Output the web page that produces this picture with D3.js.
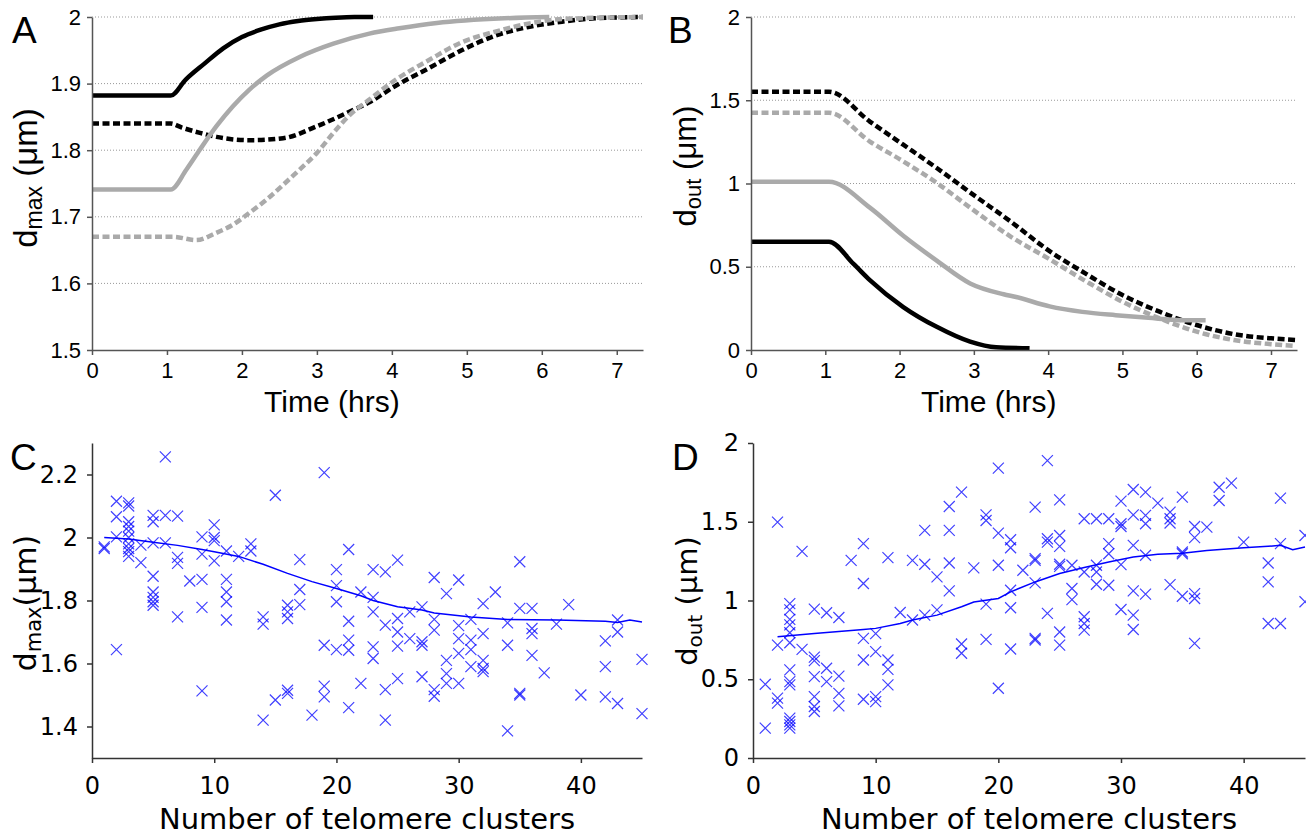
<!DOCTYPE html>
<html>
<head>
<meta charset="utf-8">
<script src="https://cdn.jsdelivr.net/npm/d3@7"></script>
<style>
  body { margin: 0; background: #fff; }
</style>
</head>
<body>
<svg id="fig"></svg>
<script>
// ---- panel A: d_max vs time, [hours, um]
const aBlackSolid = [[0,1.882],[1.05,1.882],[1.25,1.906],[1.5,1.93],[1.75,1.953],[2.0,1.97],[2.25,1.981],[2.5,1.989],[2.75,1.994],[3.0,1.997],[3.25,1.999],[3.5,2.0],[3.75,2.0]];
const aGreySolid = [[0,1.741],[1.05,1.741],[1.26,1.771],[1.44,1.801],[1.66,1.836],[1.88,1.866],[2.1,1.891],[2.33,1.912],[2.77,1.94],[3.22,1.96],[3.7,1.975],[4.1,1.983],[4.6,1.991],[5.5,1.998],[6.1,2.0]];
const aBlackDash = [[0,1.84],[1.05,1.84],[1.2,1.834],[1.44,1.826],[1.66,1.82],[2.1,1.815],[2.55,1.818],[3.0,1.836],[3.44,1.858],[3.7,1.872],[4.04,1.896],[4.49,1.923],[4.93,1.95],[5.38,1.972],[5.82,1.985],[6.27,1.993],[6.71,1.998],[7.35,2.0]];
const aGreyDash = [[0,1.67],[1.08,1.67],[1.39,1.665],[1.66,1.676],[1.88,1.688],[2.1,1.706],[2.33,1.726],[2.55,1.748],[2.77,1.771],[3.0,1.796],[3.22,1.826],[3.44,1.853],[3.7,1.876],[4.04,1.905],[4.49,1.935],[4.93,1.962],[5.38,1.978],[5.82,1.99],[6.27,1.997],[7.35,2.0]];

// ---- panel B: d_out vs time
const bBlackSolid = [[0,0.65],[1.05,0.65],[1.38,0.517],[1.6,0.42],[2.05,0.258],[2.5,0.139],[2.95,0.05],[3.3,0.016],[3.75,0.01]];
const bGreySolid = [[0,1.01],[1.05,1.01],[1.6,0.855],[2.05,0.686],[2.5,0.537],[2.95,0.40],[3.4,0.335],[3.57,0.318],[4.02,0.262],[4.46,0.229],[4.91,0.209],[5.35,0.193],[5.8,0.179],[6.12,0.178]];
const bBlackDash = [[0,1.551],[1.05,1.551],[1.6,1.372],[2.05,1.233],[2.5,1.093],[3.0,0.93],[3.5,0.77],[4.0,0.60],[4.5,0.46],[5.0,0.33],[5.5,0.23],[6.0,0.15],[6.5,0.095],[7.0,0.07],[7.35,0.06]];
const bGreyDash = [[0,1.425],[1.05,1.425],[1.6,1.252],[2.05,1.133],[2.5,1.004],[2.95,0.855],[3.5,0.68],[4.0,0.55],[4.5,0.415],[5.0,0.29],[5.5,0.19],[6.0,0.11],[6.5,0.06],[7.0,0.035],[7.3,0.025]];

const timeTicks = [0,1,2,3,4,5,6,7];
const aTicks = [1.5,1.6,1.7,1.8,1.9,2];
const aGrid = [1.6,1.7,1.8,1.9,2];
const bTicks = [0,0.5,1,1.5,2];
const bGrid = [0.5,1,1.5,2];

// ---- panels C, D: per number of telomere clusters
const clusterCounts = [1,2,3,4,5,6,7,8,9,10,11,12,13,14,15,16,17,18,19,20,21,22,23,24,25,26,27,28,29,30,31,32,33,34,35,36,37,38,39,40,42,43,45];
const cDmax = [
  [1.97,1.965],
  [2.115,2.066,2.002,1.644],
  [2.11,2.10,2.05,2.035,2.02,2.0,1.98,1.965,1.955,1.94],
  [1.976,1.92],
  [2.07,2.05,1.983,1.877,1.827,1.81,1.796,1.785],
  [2.256,2.07,1.983],
  [2.068,1.937,1.918,1.748],
  [1.862],
  [2.002,1.947,1.867,1.778,1.513],
  [2.04,2.0,1.99,1.926],
  [1.957,1.867,1.827,1.796,1.738],
  [1.94],
  [1.98,1.957],
  [1.748,1.725,1.42],
  [2.134,1.484],
  [1.785,1.764,1.743,1.515,1.505],
  [1.93,1.835,1.787],
  [1.436],
  [2.206,1.658,1.528,1.494],
  [1.898,1.847,1.796,1.644],
  [1.962,1.734,1.674,1.642,1.46],
  [1.827,1.537],
  [1.898,1.81,1.764,1.653,1.616],
  [1.891,1.722,1.517,1.42],
  [1.928,1.743,1.70,1.655,1.552],
  [1.764,1.679],
  [1.78,1.669,1.658,1.558],
  [1.873,1.74,1.706,1.517,1.496],
  [1.822,1.61,1.568,1.537],
  [1.865,1.72,1.679,1.632,1.537],
  [1.74,1.674,1.644,1.59],
  [1.79,1.695,1.61,1.584,1.574],
  [1.827],
  [1.729,1.658,1.386],
  [1.923,1.775,1.505,1.5],
  [1.775,1.711,1.695,1.626],
  [1.57],
  [1.725],
  [1.787],
  [1.5],
  [1.672,1.59,1.494],
  [1.738,1.70,1.473],
  [1.613,1.441]
];
const dDout = [
  [0.468,0.19],
  [1.498,0.717,0.38,0.348],
  [0.98,0.94,0.88,0.845,0.795,0.732,0.56,0.485,0.464,0.253,0.232,0.21,0.19],
  [1.312,0.69],
  [0.945,0.64,0.618,0.517,0.39,0.327,0.295],
  [0.922,0.57,0.485],
  [0.892,0.52,0.41,0.331],
  [1.255],
  [1.361,1.108,0.76,0.622,0.373],
  [0.79,0.675,0.39,0.358],
  [1.272,0.622,0.563,0.464],
  [0.924],
  [1.255,0.876],
  [1.445,1.23,0.907],
  [1.15,0.94],
  [1.597,1.445,1.238,1.061],
  [1.688,0.724,0.665],
  [1.207],
  [1.544,1.508,0.977,0.753],
  [1.84,1.428,1.224,0.443],
  [1.386,1.335,1.065,0.954,0.692],
  [1.192],
  [1.593,1.266,1.255,1.112,0.76,0.749],
  [1.888,1.392,1.371,0.918],
  [1.639,1.413,1.344,1.23,1.217,0.8,0.717],
  [1.224,1.076,1.006],
  [1.519,1.181,0.897,0.854,0.812],
  [1.519,1.224,1.181,1.103],
  [1.519,1.361,1.297,1.097],
  [1.631,1.487,1.47,1.228,0.943],
  [1.705,1.544,1.35,1.061,0.907,0.816],
  [1.688,1.54,1.487,1.287,1.04],
  [1.618],
  [1.561,1.519,1.492,1.101],
  [1.656,1.308,1.297,1.027],
  [1.47,1.399,1.044,1.013,0.728],
  [1.466],
  [1.719,1.635],
  [1.745],
  [1.371],
  [1.238,1.118,0.854],
  [1.65,1.361,0.854],
  [1.413,0.992]
];
// smoothed trend lines
const cFitX = [1,3,5,7,9,10,12,14,16,18,20,22,23,25,27,28,31,34,38,42,43,44,45];
const cFitY = [2.0,1.995,1.985,1.975,1.962,1.955,1.94,1.915,1.886,1.86,1.838,1.815,1.80,1.78,1.77,1.76,1.748,1.74,1.738,1.734,1.73,1.738,1.732];
const dFitX = [2,5,9,10,12,13,15,17,18,20,21,23,25,27,29,31,33,35,37,40,42,43,44,45];
const dFitY = [0.77,0.79,0.816,0.823,0.854,0.876,0.907,0.96,0.99,1.013,1.055,1.118,1.171,1.209,1.245,1.276,1.293,1.30,1.318,1.335,1.344,1.35,1.323,1.34];
const clusterTicks = [0,10,20,30,40];
const cTicks = [1.4,1.6,1.8,2.0,2.2];
const dTicks = [0,0.5,1,1.5,2];

const W = 1306, H = 835;
const svg = d3.select("#fig").attr("width", W).attr("height", H);

const FONT_AB = "'Liberation Sans',Arial,sans-serif";
const FONT_CD = "'DejaVu Sans',Verdana,sans-serif";

const xA = d3.scaleLinear().domain([0, 7.35]).range([92, 643]);
const yA = d3.scaleLinear().domain([1.5, 2]).range([350, 17]);
const xB = d3.scaleLinear().domain([0, 7.35]).range([751, 1297]);
const yB = d3.scaleLinear().domain([0, 2]).range([350, 17]);
const xC = d3.scaleLinear().domain([0, 45]).range([92, 642]);
const yC = d3.scaleLinear().domain([1.3, 2.3]).range([758, 443]);
const xD = d3.scaleLinear().domain([0, 45]).range([753, 1305]);
const yD = d3.scaleLinear().domain([0, 2]).range([758, 443]);

const fmt = d3.format("~g");

function drawGrid(xs, ys, vals) {
  svg.append("g").selectAll("line").data(vals).join("line")
    .attr("x1", xs.range()[0]).attr("x2", xs.range()[1])
    .attr("y1", d => ys(d)).attr("y2", d => ys(d))
    .style("stroke", "#999").style("stroke-width", 1).style("stroke-dasharray", "1,2");
}

function drawAxes(xs, ys, xt, yt, o) {
  let gx = svg.append("g").attr("transform", `translate(0,${ys.range()[0]})`)
    .call(d3.axisBottom(xs).tickValues(xt).tickFormat(fmt).tickSize(5).tickSizeOuter(0).tickPadding(o.xpad));
  let gy = svg.append("g").attr("transform", `translate(${xs.range()[0]},0)`)
    .call(d3.axisLeft(ys).tickValues(yt).tickFormat(fmt).tickSize(5).tickSizeOuter(0).tickPadding(o.ypad));
  [gx, gy].forEach(g => {
    g.select(".domain").style("stroke", o.color).style("stroke-width", 1.5);
    g.selectAll(".tick line").style("stroke", o.color).style("stroke-width", 1.5);
    g.selectAll("text").style("font-family", o.font).style("font-size", o.size + "px").style("fill", "#000");
  });
}

function yLabel(x, y, sub, size, font, gap) {
  let t = svg.append("text")
    .attr("transform", `translate(${x},${y}) rotate(-90)`)
    .attr("text-anchor", "middle")
    .style("font-family", font).style("font-size", size + "px").style("fill", "#000");
  t.append("tspan").text("d");
  t.append("tspan").attr("dy", 5).style("font-size", Math.round(size * 0.7) + "px").text(sub);
  t.append("tspan").attr("dy", -5).text((gap ? " " : "") + "(μm)");
}

function panelLetter(x, y, s) {
  svg.append("text").attr("x", x).attr("y", y).text(s)
    .style("font-family", FONT_AB).style("font-size", "37px").style("fill", "#000");
}

function xTitle(x, y, s, size, font) {
  svg.append("text").attr("x", x).attr("y", y).attr("text-anchor", "middle").text(s)
    .style("font-family", font).style("font-size", size + "px").style("fill", "#000");
}

function drawCurve(xs, ys, data, color, dashed) {
  const line = d3.line().x(d => xs(d[0])).y(d => ys(d[1])).curve(d3.curveMonotoneX);
  svg.append("path").attr("d", line(data))
    .attr("fill", "none").attr("stroke", color).attr("stroke-width", 4.5)
    .attr("stroke-dasharray", dashed ? "7,3.5" : null);
}

// ---------- A ----------
drawGrid(xA, yA, aGrid);
drawCurve(xA, yA, aBlackDash, "#000", true);
drawCurve(xA, yA, aGreyDash, "#aaa", true);
drawCurve(xA, yA, aGreySolid, "#aaa", false);
drawCurve(xA, yA, aBlackSolid, "#000", false);
drawAxes(xA, yA, timeTicks, aTicks, {color: "#555", font: FONT_AB, size: 22, xpad: 7, ypad: 6});
xTitle(xA(3.2), 412, "Time (hrs)", 30, FONT_AB);
yLabel(37, 178, "max", 33, FONT_AB, true);
panelLetter(12, 43, "A");

// ---------- B ----------
drawGrid(xB, yB, bGrid);
drawCurve(xB, yB, bBlackDash, "#000", true);
drawCurve(xB, yB, bGreyDash, "#aaa", true);
drawCurve(xB, yB, bGreySolid, "#aaa", false);
drawCurve(xB, yB, bBlackSolid, "#000", false);
drawAxes(xB, yB, timeTicks, bTicks, {color: "#555", font: FONT_AB, size: 22, xpad: 7, ypad: 6});
xTitle(xB(3.2), 412, "Time (hrs)", 30, FONT_AB);
yLabel(696, 166, "out", 31, FONT_AB, true);
panelLetter(668, 43, "B");

// ---------- C, D scatter ----------
function drawScatter(xs, ys, counts, vals, fitX, fitY) {
  const pts = [];
  counts.forEach((c, i) => vals[i].forEach(v => pts.push([c, v])));
  svg.append("g").selectAll("path").data(pts).join("path")
    .attr("transform", d => `translate(${xs(d[0])},${ys(d[1])})`)
    .attr("d", "M-5.5,-5.5L5.5,5.5M-5.5,5.5L5.5,-5.5")
    .attr("fill", "none").attr("stroke", "#0000ff").attr("stroke-width", 1.2).attr("stroke-opacity", 0.75);
  const line = d3.line().x((d, i) => xs(fitX[i])).y(d => ys(d));
  svg.append("path").attr("d", line(fitY))
    .attr("fill", "none").attr("stroke", "#0000ff").attr("stroke-width", 1.5);
}

drawScatter(xC, yC, clusterCounts, cDmax, cFitX, cFitY);
drawAxes(xC, yC, clusterTicks, cTicks, {color: "#333", font: FONT_CD, size: 24, xpad: 14, ypad: 9});
xTitle((xC.range()[0] + xC.range()[1]) / 2, 829, "Number of telomere clusters", 29, FONT_CD);
yLabel(36, 603, "max", 30, FONT_CD, false);
panelLetter(10, 470, "C");

drawScatter(xD, yD, clusterCounts, dDout, dFitX, dFitY);
drawAxes(xD, yD, clusterTicks, dTicks, {color: "#333", font: FONT_CD, size: 24, xpad: 14, ypad: 9});
xTitle((xD.range()[0] + xD.range()[1]) / 2, 829, "Number of telomere clusters", 29, FONT_CD);
yLabel(697, 601, "out", 29, FONT_CD, true);
panelLetter(672, 470, "D");
</script>
</body>
</html>
